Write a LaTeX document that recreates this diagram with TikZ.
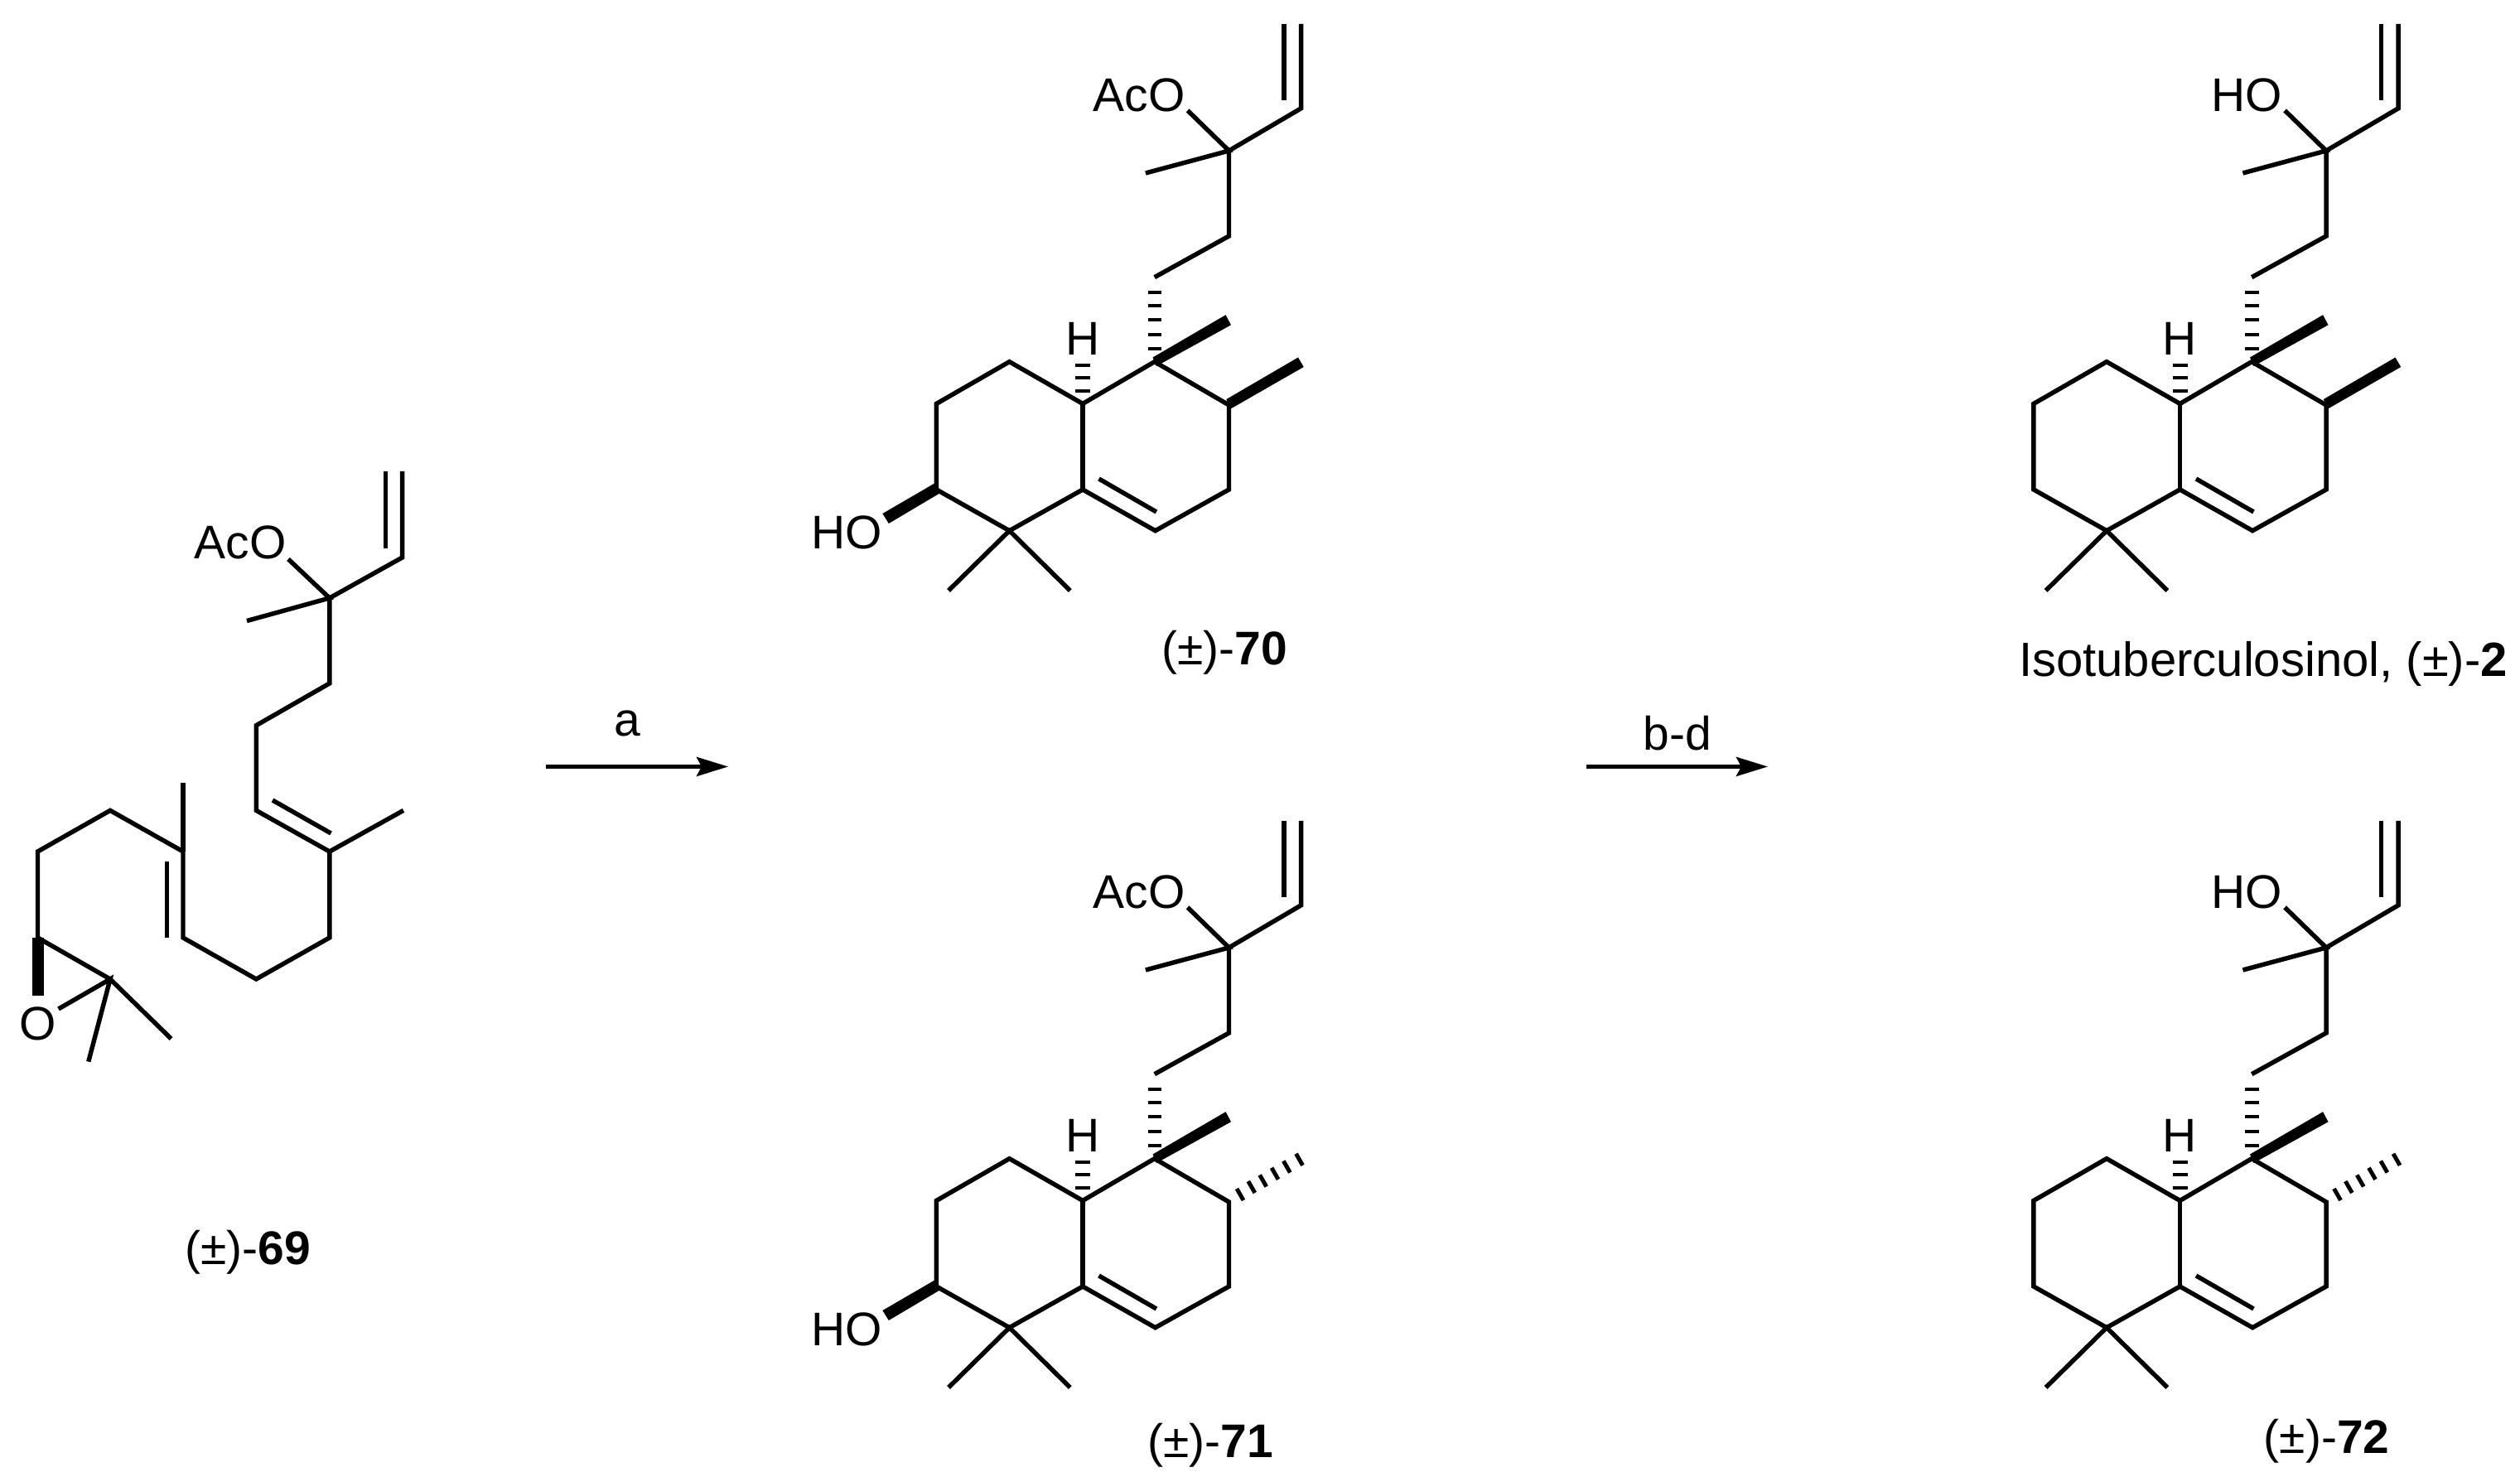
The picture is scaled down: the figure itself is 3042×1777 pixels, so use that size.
\documentclass[tikz,border=0pt]{standalone}
\usepackage{fontspec}
\setmainfont{Liberation Sans}
\usetikzlibrary{arrows.meta}
\tikzset{
  bond/.style={line width=1.55pt,line join=miter,line cap=butt},
  hashline/.style={line width=1.4pt},
  atom/.style={inner sep=0pt,font=\fontsize{16.2}{18}\selectfont,text height=11.6pt,text depth=0pt},
  rxn/.style={line width=1.45pt,-{Stealth[length=0.38cm,width=0.23cm,inset=0.06cm]}}
}
% decalin skeleton with side chain; #1 = name prefix, #2 = label at the tertiary oxygen
\newcommand\skeleton[2]{%
  \coordinate (#1vt) at (1570.6,28.8);
  \coordinate (#1vc) at (1570.6,130.8);
  \coordinate (#1vi) at (1549.8,28.8);
  \coordinate (#1vj) at (1549.8,121.3);
  \coordinate (#1q) at (1483.5,182);
  \coordinate (#1qo) at (1433.6,133.4);
  \coordinate (#1qm) at (1382.9,209);
  \coordinate (#1c1) at (1483.5,285);
  \coordinate (#1c2) at (1393.7,334.7);
  \coordinate (#1r1) at (1393.7,436.7);
  \coordinate (#1r2) at (1307,487.4);
  \coordinate (#1r3) at (1218.5,436.7);
  \coordinate (#1r4) at (1130.4,487.4);
  \coordinate (#1r5) at (1130.4,591);
  \coordinate (#1r6) at (1218.5,640.7);
  \coordinate (#1r7) at (1307,591);
  \coordinate (#1r8) at (1394.6,640.7);
  \coordinate (#1r9) at (1483.5,591);
  \coordinate (#1r0) at (1483.5,489);
  \coordinate (#1d1) at (1326.5,578);
  \coordinate (#1d2) at (1395.9,618);
  \coordinate (#1m1) at (1145,713);
  \coordinate (#1m2) at (1291.8,713);
  \node[atom,anchor=east] (#1ol) at (1431,114) {#2};
  \node[atom] (#1h) at (1307,408) {H};
  \draw[bond] (#1vt) -- (#1vc) -- (#1q) -- (#1c1) -- (#1c2);
  \draw[bond] (#1vi) -- (#1vj);
  \draw[bond] (#1qo) -- (#1q) -- (#1qm);
  \draw[bond] (#1r1) -- (#1r2) -- (#1r3) -- (#1r4) -- (#1r5) -- (#1r6) -- (#1r7) -- (#1r8) -- (#1r9) -- (#1r0) -- cycle;
  \draw[bond] (#1r2) -- (#1r7);
  \draw[bond] (#1d1) -- (#1d2);
  \draw[bond] (#1m1) -- (#1r6) -- (#1m2);
  \foreach \y in {353,369,386,404,421} \draw[hashline] (1385.5,\y) -- (1402,\y);
  \foreach \y in {441,456,472} \draw[hashline] (1298,\y) -- (1316,\y);
  \fill (1391.5,431.5) -- (1479.6,380.2) -- (1486,392.3) -- (1396,442) -- cycle;
}
\newcommand\wedgeMe{\fill (1480.4,482) -- (1567,431.5) -- (1573.7,443) -- (1484.8,494) -- cycle;}
\newcommand\hashMe{%
  \foreach \x/\y in {1497/480,1510.8/471,1524.7/463.5,1539/454.8,1553.3/446.5,1568.5/437.8}
    \draw[hashline] (\x-4,\y-7) -- (\x+4,\y+7);}
\newcommand\hydroxyl[1]{%
  \fill (1129,583) -- (1065.4,620) -- (1072.8,632) -- (1133.5,596) -- cycle;
  \node[atom] (#1oh) at (1022,642) {HO};}
\begin{document}
\begin{tikzpicture}[x=0.01cm,y=-0.01cm]
\useasboundingbox (0,0) rectangle (3042,1777);
% compound 69
\coordinate (a1) at (485.6,569);
\coordinate (a2) at (485.6,673);
\coordinate (a3) at (465.6,569);
\coordinate (a4) at (465.6,662);
\coordinate (a5) at (397.8,722);
\coordinate (a6) at (348,675);
\coordinate (a7) at (298,749.5);
\coordinate (a8) at (397.8,825);
\coordinate (a9) at (309.3,875.7);
\coordinate (a10) at (309.3,978.4);
\coordinate (a11) at (397.8,1028);
\coordinate (a12) at (329,966);
\coordinate (a13) at (399.5,1006);
\coordinate (a14) at (487,978.4);
\coordinate (a15) at (397.8,1132);
\coordinate (a16) at (309.3,1182);
\coordinate (a17) at (221,1132);
\coordinate (a18) at (221,1028);
\coordinate (a19) at (221,944.6);
\coordinate (a20) at (201.5,1039.6);
\coordinate (a21) at (201.5,1132);
\coordinate (a22) at (133,978.4);
\coordinate (a23) at (45.5,1028);
\coordinate (a24) at (45.5,1132);
\coordinate (a25) at (133,1182);
\coordinate (a26) at (70.6,1218);
\coordinate (a27) at (106.8,1281.6);
\coordinate (a28) at (206.6,1254);
\node[atom] (aaco) at (290,654) {AcO};
\node[atom] (ao) at (45.5,1235) {O};
\draw[bond] (a1) -- (a2) -- (a5) -- (a8) -- (a9) -- (a10) -- (a11) -- (a15) -- (a16) -- (a17) -- (a18) -- (a22) -- (a23) -- (a24) -- (a25);
\draw[bond] (a3) -- (a4);
\draw[bond] (a6) -- (a5) -- (a7);
\draw[bond] (a12) -- (a13);
\draw[bond] (a11) -- (a14);
\draw[bond] (a19) -- (a18);
\draw[bond] (a20) -- (a21);
\draw[bond] (a26) -- (a25) -- (a27);
\draw[bond] (a25) -- (a28);
\fill (38.5,1132) rectangle (52.5,1202);
\node[atom] (l69) at (299,1506) {(±)-\textbf{69}};
% compound 70
\begin{scope}
  \skeleton{b}{AcO}\wedgeMe\hydroxyl{b}
\end{scope}
\node[atom] (l70) at (1478,782) {(±)-\textbf{70}};
% compound 71
\begin{scope}[shift={(0,962)}]
  \skeleton{c}{AcO}\hashMe\hydroxyl{c}
\end{scope}
\node[atom] (l71) at (1461,1739.5) {(±)-\textbf{71}};
% compound 2
\begin{scope}[shift={(1324.5,0)}]
  \skeleton{d}{HO}\wedgeMe
\end{scope}
\node[atom,font=\fontsize{16.5}{18}\selectfont] (l2) at (2732,796.6) {Isotuberculosinol, (±)-\textbf{2}};
% compound 72
\begin{scope}[shift={(1324.5,962)}]
  \skeleton{e}{HO}\hashMe
\end{scope}
\node[atom] (l72) at (2808.6,1734) {(±)-\textbf{72}};
% arrows
\coordinate (r1s) at (659,925.5);
\coordinate (r1e) at (879,925.5);
\coordinate (r2s) at (1915,925.5);
\coordinate (r2e) at (2134,925.5);
\draw[rxn] (r1s) -- (r1e);
\draw[rxn] (r2s) -- (r2e);
\node[atom] (ra) at (757,868) {a};
\node[atom] (rb) at (2025,885) {b-d};
\end{tikzpicture}
\end{document}
